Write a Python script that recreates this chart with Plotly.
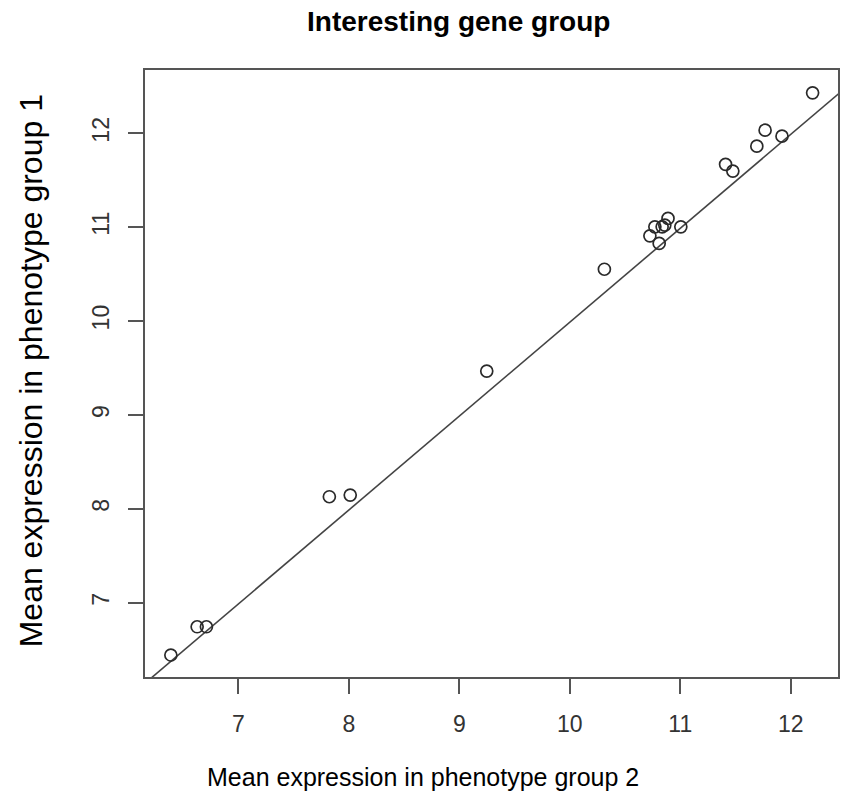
import plotly.graph_objects as go

# Data
group2_means = [6.388, 6.626, 6.710, 7.823, 8.012, 9.248, 10.313,
                10.725, 10.770, 10.809, 10.836, 10.860, 10.889, 11.005,
                11.410, 11.476, 11.693, 11.768, 11.921, 12.198]
group1_means = [6.443, 6.744, 6.744, 8.129, 8.147, 9.467, 10.552,
                10.908, 11.004, 10.827, 11.004, 11.022, 11.093, 11.004,
                11.669, 11.597, 11.863, 12.033, 11.969, 12.431]

line_intercept = -0.012
line_slope = 1.0
line_x = [6.0, 12.6]
line_y = [line_intercept + line_slope * v for v in line_x]

x_ticks = [7, 8, 9, 10, 11, 12]
y_ticks = [7, 8, 9, 10, 11, 12]

title_text = "Interesting gene group"
x_title = "Mean expression in phenotype group 2"
y_title = "Mean expression in phenotype group 1"

W, H = 844, 791
ml, mr, mt, mb = 145, 4, 70, 114

fig = go.Figure()
fig.add_trace(go.Scatter(x=line_x, y=line_y, mode="lines",
                         line=dict(color="#444444", width=1.6),
                         hoverinfo="skip", showlegend=False))
fig.add_trace(go.Scatter(x=group2_means, y=group1_means, mode="markers",
                         marker=dict(symbol="circle-open", size=12,
                                     color="#2a2a2a", line=dict(width=1.7, color="#2a2a2a")),
                         showlegend=False))

axis_common = dict(showgrid=False, zeroline=False, showline=True, mirror=True,
                   linecolor="#555555", linewidth=1.6, ticks="outside",
                   ticklen=15, tickwidth=1.5, tickcolor="#555555",
                   tickfont=dict(family="Liberation Sans, Arial, sans-serif", size=23, color="#333333"))

fig.update_layout(
    width=W, height=H,
    margin=dict(l=ml, r=mr, t=mt, b=mb, pad=0),
    paper_bgcolor="white", plot_bgcolor="white",
    xaxis=dict(range=[6.154, 12.428], tickvals=x_ticks, ticktext=[str(v) for v in x_ticks],
               ticklabelstandoff=11, **axis_common),
    yaxis=dict(range=[6.209, 12.674], tickvals=y_ticks, ticktext=[str(v) for v in y_ticks],
               tickangle=-90, ticklabelstandoff=10, **axis_common),
    annotations=[
        dict(text="<b>" + title_text + "</b>", x=459 / W, y=1 - 21 / H, xref="paper", yref="paper",
             xanchor="center", yanchor="middle", showarrow=False,
             font=dict(family="Liberation Sans, Arial, sans-serif", size=28, color="black")),
        dict(text=x_title, x=424 / W, y=1 - 777 / H, xref="paper", yref="paper",
             xanchor="center", yanchor="middle", showarrow=False,
             font=dict(family="Liberation Sans, Arial, sans-serif", size=25, color="black")),
        dict(text=y_title, x=31 / W, y=1 - 371 / H, xref="paper", yref="paper",
             xanchor="center", yanchor="middle", showarrow=False, textangle=-90,
             font=dict(family="Liberation Sans, Arial, sans-serif", size=32, color="black")),
    ],
)
# convert annotation container-fraction coords to plot-paper coords
for a in fig.layout.annotations:
    px_x = a.x * W
    px_y = (1 - a.y) * H
    a.x = (px_x - ml) / (W - ml - mr)
    a.y = 1 - (px_y - mt) / (H - mt - mb)

fig.write_html("out.html")
